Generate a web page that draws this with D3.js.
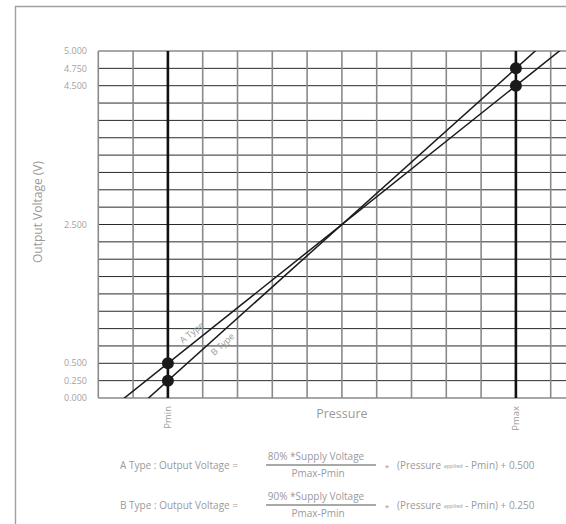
<!DOCTYPE html>
<html>
<head>
<meta charset="utf-8">
<script src="https://cdn.jsdelivr.net/npm/d3@7"></script>
<style>
  body { margin: 0; background: #fff; }
  svg { display: block; font-family: "Open Sans", "DejaVu Sans", sans-serif; }
</style>
</head>
<body>
<svg id="chart" width="566" height="524"></svg>
<script>
// ---- data ----
const yTickValues = [0, 0.25, 0.5, 2.5, 4.5, 4.75, 5];
const yTickLabels = ["0.000", "0.250", "0.500", "2.500", "4.500", "4.750", "5.000"];
const xMarkers = ["Pmin", "Pmax"];
const xMarkerValues = [0, 100];
const seriesNames = ["A Type", "B Type"];
const seriesAtPmin = [0.5, 0.25];
const seriesAtPmax = [4.5, 4.75];
const formulaPercents = ["80%", "90%"];
const formulaOffsets = ["0.500", "0.250"];

// ---- layout ----
const svg = d3.select("#chart");
const W = 566, H = 524;
const plotLeft = 98.3, plotTop = 51, plotBottom = 398, cell = 34.8;
const x = d3.scaleLinear().domain([-20, 120]).range([plotLeft, plotLeft + 14 * cell]);
const y = d3.scaleLinear().domain([0, 5]).range([plotBottom, plotTop]);
const textColor = "#9a9a9a";

// frame
svg.append("path")
  .attr("d", `M15.5,${H + 2} L15.5,6.5 L${W + 2},6.5`)
  .attr("fill", "none").attr("stroke", "#a0a0a0").attr("stroke-width", 1.4);

const gridRight = W + 2;
const g = svg.append("g");

// horizontal grid
const yGrid = d3.range(0, 21).map(i => i * 0.25);
g.selectAll("line.h").data(yGrid).join("line")
  .attr("class", "h")
  .attr("x1", plotLeft).attr("x2", gridRight)
  .attr("y1", d => y(d)).attr("y2", d => y(d))
  .attr("stroke", d => (d === 0 || d === 5) ? "#8a8a8a" : "#2a2a2a")
  .attr("stroke-width", d => (d === 0 || d === 5) ? 1.5 : 1);

// vertical grid
const xGrid = d3.range(-20, 121, 10);
g.selectAll("line.v").data(xGrid.filter(d => !xMarkerValues.includes(d))).join("line")
  .attr("class", "v")
  .attr("x1", d => x(d)).attr("x2", d => x(d))
  .attr("y1", plotTop).attr("y2", plotBottom)
  .attr("stroke", "#8a8a8a").attr("stroke-width", 1.6);

// Pmin / Pmax thick lines
g.selectAll("line.m").data(xMarkerValues).join("line")
  .attr("class", "m")
  .attr("x1", d => x(d)).attr("x2", d => x(d))
  .attr("y1", plotTop).attr("y2", plotBottom)
  .attr("stroke", "#111").attr("stroke-width", 2.6);

// clip for series lines
svg.append("clipPath").attr("id", "plotClip")
  .append("rect").attr("x", plotLeft).attr("y", plotTop)
  .attr("width", W - plotLeft).attr("height", plotBottom - plotTop);

// series lines, extended through the two known points
const series = seriesNames.map((name, i) => {
  const slope = (seriesAtPmax[i] - seriesAtPmin[i]) / (xMarkerValues[1] - xMarkerValues[0]);
  return { name, i, slope, v0: seriesAtPmin[i] };
});
const valAt = (s, p) => s.v0 + s.slope * (p - xMarkerValues[0]);
const lineGen = d3.line().x(d => x(d[0])).y(d => y(d[1]));
svg.append("g").attr("clip-path", "url(#plotClip)")
  .selectAll("path").data(series).join("path")
  .attr("d", s => lineGen([[-40, valAt(s, -40)], [140, valAt(s, 140)]]))
  .attr("fill", "none").attr("stroke", "#1a1a1a").attr("stroke-width", 1.5);

// dots
const dots = [];
series.forEach((s, i) => {
  dots.push([xMarkerValues[0], seriesAtPmin[i]]);
  dots.push([xMarkerValues[1], seriesAtPmax[i]]);
});
svg.selectAll("circle.dot").data(dots).join("circle")
  .attr("class", "dot")
  .attr("cx", d => x(d[0])).attr("cy", d => y(d[1])).attr("r", 6)
  .attr("fill", "#1a1a1a");

// series labels along the lines
const labelPos = [8.5, 13.9];
const labelDy = [-6, 12.5];
series.forEach((s, i) => {
  const p = labelPos[i];
  const px = x(p), py = y(valAt(s, p));
  const ang = Math.atan2(y(valAt(s, p + 10)) - py, x(p + 10) - px) * 180 / Math.PI;
  svg.append("text")
    .attr("transform", `translate(${px},${py}) rotate(${ang})`)
    .attr("y", labelDy[i])
    .attr("text-anchor", "middle")
    .attr("font-size", 9).attr("fill", textColor)
    .text(s.name);
});

// y tick labels
svg.selectAll("text.yt").data(yTickValues).join("text")
  .attr("class", "yt")
  .attr("x", 87).attr("y", d => y(d)).attr("dy", "0.35em")
  .attr("text-anchor", "end")
  .attr("font-size", 9).attr("fill", "#a3a3a3")
  .text((d, i) => yTickLabels[i]);

// y axis title
svg.append("text")
  .attr("transform", `translate(42,212) rotate(-90)`)
  .attr("text-anchor", "middle")
  .attr("font-size", 12).attr("fill", textColor)
  .text("Output Voltage (V)");

// x marker labels
svg.selectAll("text.xm").data(xMarkers).join("text")
  .attr("class", "xm")
  .attr("transform", (d, i) => `translate(${x(xMarkerValues[i]) + 3},406) rotate(-90)`)
  .attr("text-anchor", "end")
  .attr("font-size", 9.5).attr("fill", textColor)
  .text(d => d);

// x axis title
svg.append("text")
  .attr("x", x(50)).attr("y", 418)
  .attr("text-anchor", "middle")
  .attr("font-size", 12.5).attr("fill", textColor)
  .text("Pressure");

// formulas
const rowY = [465, 505];
seriesNames.forEach((name, i) => {
  const yy = rowY[i];
  const f = svg.append("g").attr("fill", textColor).attr("font-size", 10);
  f.append("text").attr("x", 120).attr("y", yy + 3.5).text(name + " : Output Voltage =");
  f.append("text").attr("x", 316).attr("y", yy - 5).attr("text-anchor", "middle")
    .text(formulaPercents[i] + " *Supply Voltage");
  f.append("line").attr("x1", 266).attr("x2", 376).attr("y1", yy).attr("y2", yy)
    .attr("stroke", "#555").attr("stroke-width", 1.2);
  f.append("text").attr("x", 318).attr("y", yy + 12).attr("text-anchor", "middle")
    .text("Pmax-Pmin");
  f.append("text").attr("x", 387).attr("y", yy + 5).attr("text-anchor", "middle")
    .attr("font-size", 8).text("*");
  const t = f.append("text").attr("x", 397).attr("y", yy + 3.5);
  t.append("tspan").text("(Pressure ");
  t.append("tspan").attr("font-size", 5.5).attr("dy", -0.5).text("applied");
  t.append("tspan").attr("dy", 0.5).text(" - Pmin) + " + formulaOffsets[i]);
});
</script>
</body>
</html>
